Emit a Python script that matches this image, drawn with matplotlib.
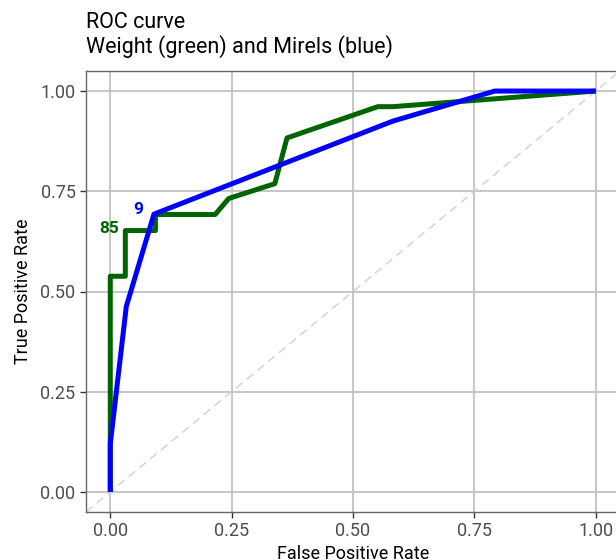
import matplotlib
matplotlib.use("Agg")
import matplotlib.pyplot as plt

plt.rcParams['font.family'] = ['Roboto', 'DejaVu Sans']

# ROC points
weight_fpr = [0.0, 0.0, 0.031, 0.031, 0.093, 0.093, 0.216, 0.244, 0.339, 0.364, 0.551, 0.582, 1.0]
weight_tpr = [0.0, 0.538, 0.538, 0.652, 0.652, 0.692, 0.692, 0.732, 0.769, 0.883, 0.961, 0.961, 1.0]

mirels_fpr = [0.0, 0.0, 0.033, 0.090, 0.582, 0.792, 1.0]
mirels_tpr = [0.0, 0.12, 0.4625, 0.693, 0.925, 1.0, 1.0]

# threshold labels
weight_label = ("85", 0.031, 0.652)
mirels_label = ("9", 0.090, 0.693)

ticks = [0.0, 0.25, 0.5, 0.75, 1.0]
tick_labels = ["0.00", "0.25", "0.50", "0.75", "1.00"]

fig = plt.figure(figsize=(6.16, 5.6), dpi=100)
ax = fig.add_axes([86 / 616, 1 - 512 / 560, 534 / 616, (512 - 71) / 560])

# diagonal reference line
ax.plot([-0.05, 1.05], [-0.05, 1.05], color='#d0d0d0', lw=1.0, ls=(0, (6, 4)), zorder=1)

ax.plot(weight_fpr, weight_tpr, color='#006400', lw=3.6, solid_capstyle='butt', zorder=3)
ax.plot(mirels_fpr, mirels_tpr, color='#0000ff', lw=3.6, solid_capstyle='butt', zorder=4)

ax.text(weight_label[1] - 0.013, weight_label[2] + 0.006, weight_label[0], color='#006400',
        fontsize=12.5, fontweight='bold', ha='right', va='center', zorder=5)
ax.text(mirels_label[1] - 0.022, mirels_label[2] + 0.012, mirels_label[0], color='#0000ff',
        fontsize=12.5, fontweight='bold', ha='right', va='center', zorder=5)

ax.set_xlim(-0.05, 1.05)
ax.set_ylim(-0.05, 1.05)
ax.set_xticks(ticks)
ax.set_xticklabels(tick_labels)
ax.set_yticks(ticks)
ax.set_yticklabels(tick_labels)
ax.tick_params(labelsize=13, colors='#333333', labelcolor='#4d4d4d', length=4, width=1)

ax.grid(True, color='#c2c2c2', lw=1.3, zorder=0)
ax.set_axisbelow(True)
for s in ax.spines.values():
    s.set_color('#666666')
    s.set_linewidth(1.0)

ax.set_xlabel("False Positive Rate", fontsize=13, labelpad=3)
ax.set_ylabel("True Positive Rate", fontsize=13, labelpad=6)

fig.text(86 / 616, 1 - 22 / 560, "ROC curve", fontsize=15.5, ha='left', va='center')
fig.text(86 / 616, 1 - 47 / 560, "Weight (green) and Mirels (blue)", fontsize=15.5, ha='left', va='center')

fig.savefig("out.png", dpi=100)
